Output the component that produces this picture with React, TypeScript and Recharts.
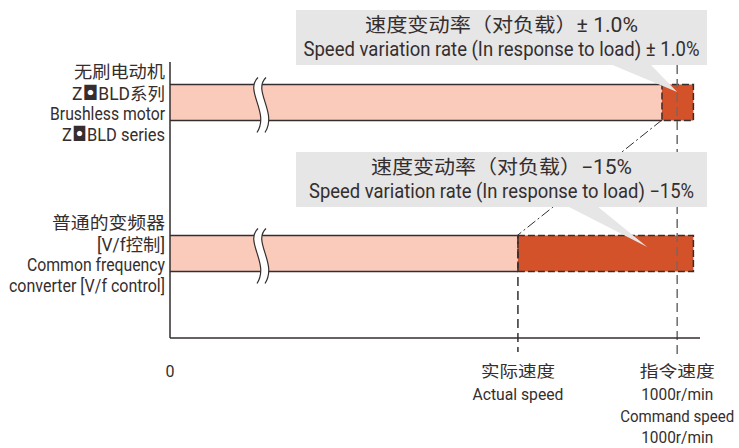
import { BarChart, Bar, XAxis, YAxis, ReferenceLine, ReferenceDot } from 'recharts';

const MOTORS = ['brushless', 'common'];
const MOTOR_LABELS = [
  ['无刷电动机', 'Z◘BLD系列', 'Brushless motor', 'Z◘BLD series'],
  ['普通的变频器', '[V/f控制]', 'Common frequency', 'converter [V/f control]'],
];
// schematic speeds (r/min): steady part of each bar + the band it wanders over under load
const STEADY_SPEED = [970, 686];
const SPEED_SPREAD = [62, 346];
const COMMAND_SPEED = 1000;
const ACTUAL_SPEED = 686;
const SPEED_TICKS = [0, ACTUAL_SPEED, COMMAND_SPEED];
const SPEED_TICK_LABELS = [
  ['0'],
  ['实际速度', 'Actual speed'],
  ['指令速度', '1000r/min', 'Command speed', '1000r/min'],
];
const CALLOUT_CN = ['速度变动率（对负载）± 1.0%', '速度变动率（对负载）−15%'];
const CALLOUT_EN = [
  'Speed variation rate (In response to load) ± 1.0%',
  'Speed variation rate (In response to load) −15%',
];
const CALLOUT_POINT = [1000, 941];

const FONT = 'Roboto, "Noto Sans CJK SC", sans-serif';
const INK = '#352e2e';
const PINK = '#facbbb';
const RED = '#d3522a';
const BOX = '#e6e6e6';
const PLOT_BOTTOM = 338;
const BAR = 36;

// the original uses a condensed face, so widths are pinned with textLength
const MOTOR_LABEL_W = [[91, 93, 115, 103], [113, 68, 138, 156]];
const MOTOR_LABEL_DY = [-24, -2, 18, 39];
const TICK_LABEL_W = [[0], [74, 91], [75, 72, 114, 72]];
const TICK_LABEL_DY = [39, 62, 84, 105];
const BOX_LEFT = 296;
const BOX_W = 411;
const BOX_H = 55;
const CALLOUT_BOX_TOP = [10, 152];
const CALLOUT_TIP_DY = [-10, -6];
const CALLOUT_BASE = [[610, 650], [567, 597]];
const CALLOUT_W = [[273, 396], [261, 385]];

const data = MOTORS.map((name, i) => ({ name, steady: STEADY_SPEED[i], spread: SPEED_SPREAD[i] }));

// the boxed-dot mark in "Z◘BLD" needs a face that draws it large
function withMark(s: string) {
  const parts = s.split('◘');
  if (parts.length === 1) return s;
  return [
    parts[0],
    <tspan key="m" fontFamily='"DejaVu Sans"' fontSize="1.15em">◘</tspan>,
    parts[1],
  ];
}

function Txt({ x, y, w, size, anchor, children }: any) {
  return (
    <text
      x={x}
      y={y}
      fill={INK}
      fontSize={size}
      fontFamily={FONT}
      textAnchor={anchor}
      textLength={w || undefined}
      lengthAdjust="spacingAndGlyphs"
    >
      {children}
    </text>
  );
}

const SteadyBar = (p: any) => {
  const { x, y, width, height } = p;
  const t = y;
  const b = y + height;
  const cx = x + 86;
  const c1 = `M${cx + 2},${t - 7} C${cx - 12},${t + 6} ${cx + 14},${b - 8} ${cx + 1},${b + 12}`;
  const c2 = `M${cx + 10},${t - 7} C${cx - 4},${t + 6} ${cx + 22},${b - 8} ${cx + 9},${b + 12}`;
  const gap = `${c1} L${cx + 9},${b + 12} C${cx + 22},${b - 8} ${cx - 4},${t + 6} ${cx + 10},${t - 7} Z`;
  return (
    <g>
      <rect x={x} y={y} width={width} height={height} fill={PINK} />
      <line x1={x} y1={t} x2={x + width} y2={t} stroke={INK} strokeWidth={1.5} />
      <line x1={x} y1={b} x2={x + width} y2={b} stroke={INK} strokeWidth={1.5} />
      <path d={gap} fill="#fff" stroke="none" />
      <path d={c1} fill="none" stroke={INK} strokeWidth={1.2} />
      <path d={c2} fill="none" stroke={INK} strokeWidth={1.2} />
    </g>
  );
};

const SpreadBar = (p: any) => (
  <rect
    x={p.x}
    y={p.y}
    width={p.width}
    height={p.height}
    fill={RED}
    stroke={INK}
    strokeWidth={1.5}
    strokeDasharray="7 3"
  />
);

const MotorTick = (p: any) => {
  const i = MOTORS.indexOf(p.payload.value);
  return (
    <g>
      {MOTOR_LABELS[i].map((s, k) => (
        <Txt key={k} x={165} y={p.y + MOTOR_LABEL_DY[k]} w={MOTOR_LABEL_W[i][k]} size={17.5} anchor="end">
          {withMark(s)}
        </Txt>
      ))}
    </g>
  );
};

const SpeedTick = (p: any) => {
  const i = SPEED_TICKS.indexOf(p.payload.value);
  return (
    <g>
      {(SPEED_TICK_LABELS[i] || []).map((s, k) => (
        <Txt key={k} x={p.x} y={PLOT_BOTTOM + TICK_LABEL_DY[k]} w={TICK_LABEL_W[i][k]} size={16} anchor="middle">
          {s}
        </Txt>
      ))}
    </g>
  );
};

const CommandLine = (p: any) => (
  <line
    x1={p.x1}
    x2={p.x2}
    y1={Math.min(p.y1, p.y2) + 3}
    y2={PLOT_BOTTOM + 16}
    stroke="#6f6a6a"
    strokeWidth={1.5}
    strokeDasharray="9 5"
  />
);

const ActualLine = (p: any) => (
  <line
    x1={p.x1}
    x2={p.x1}
    y1={p.y1 - BAR / 2}
    y2={PLOT_BOTTOM + 14}
    stroke={INK}
    strokeWidth={1.5}
    strokeDasharray="9 5"
  />
);

const LinkLine = (p: any) => (
  <line
    x1={p.x1}
    y1={p.y1 + BAR / 2}
    x2={p.x2}
    y2={p.y2 - BAR / 2}
    stroke={INK}
    strokeWidth={1}
    strokeDasharray="10 3 2 3"
  />
);

const calloutShape = (i: number) => (p: any) => {
  const tipX = p.cx;
  const tipY = p.cy + CALLOUT_TIP_DY[i];
  const top = CALLOUT_BOX_TOP[i];
  const [b0, b1] = CALLOUT_BASE[i];
  const mid = BOX_LEFT + BOX_W / 2;
  return (
    <g>
      <polygon points={`${b0},${top + BOX_H - 1} ${b1},${top + BOX_H - 1} ${tipX},${tipY}`} fill={BOX} />
      <rect x={BOX_LEFT} y={top} width={BOX_W} height={BOX_H} fill={BOX} />
      <Txt x={mid} y={top + 22} w={CALLOUT_W[i][0]} size={19.5} anchor="middle">
        {CALLOUT_CN[i]}
      </Txt>
      <Txt x={mid} y={top + 46} w={CALLOUT_W[i][1]} size={19.5} anchor="middle">
        {CALLOUT_EN[i]}
      </Txt>
    </g>
  );
};

export default function App() {
  return (
    <div style={{ position: 'absolute', left: 0, top: 0, width: 739, height: 448, background: '#fff' }}>
      <BarChart
        width={739}
        height={448}
        data={data}
        layout="vertical"
        margin={{ top: 62, right: 39, bottom: 0, left: 0 }}
      >
        <XAxis
          type="number"
          domain={[0, 1045]}
          ticks={SPEED_TICKS}
          interval={0}
          height={110}
          tickLine={false}
          tickSize={0}
          tickMargin={0}
          axisLine={{ stroke: INK, strokeWidth: 1.5 }}
          tick={SpeedTick}
        />
        <YAxis
          type="category"
          dataKey="name"
          width={170}
          interval={0}
          padding={{ top: -35.5, bottom: 9.5 }}
          tickLine={false}
          tickSize={0}
          tickMargin={5}
          axisLine={{ stroke: INK, strokeWidth: 1.5 }}
          tick={MotorTick}
        />
        <Bar dataKey="steady" stackId="speed" barSize={BAR} shape={SteadyBar} isAnimationActive={false} />
        <Bar dataKey="spread" stackId="speed" barSize={BAR} shape={SpreadBar} isAnimationActive={false} />
        <ReferenceLine x={COMMAND_SPEED} shape={CommandLine} />
        <ReferenceLine
          segment={[
            { x: ACTUAL_SPEED, y: MOTORS[1] },
            { x: ACTUAL_SPEED, y: MOTORS[1] },
          ]}
          shape={ActualLine}
        />
        <ReferenceLine
          segment={[
            { x: STEADY_SPEED[0], y: MOTORS[0] },
            { x: STEADY_SPEED[1], y: MOTORS[1] },
          ]}
          shape={LinkLine}
        />
        {CALLOUT_POINT.map((v, i) => (
          <ReferenceDot key={i} x={v} y={MOTORS[i]} shape={calloutShape(i)} />
        ))}
      </BarChart>
    </div>
  );
}
